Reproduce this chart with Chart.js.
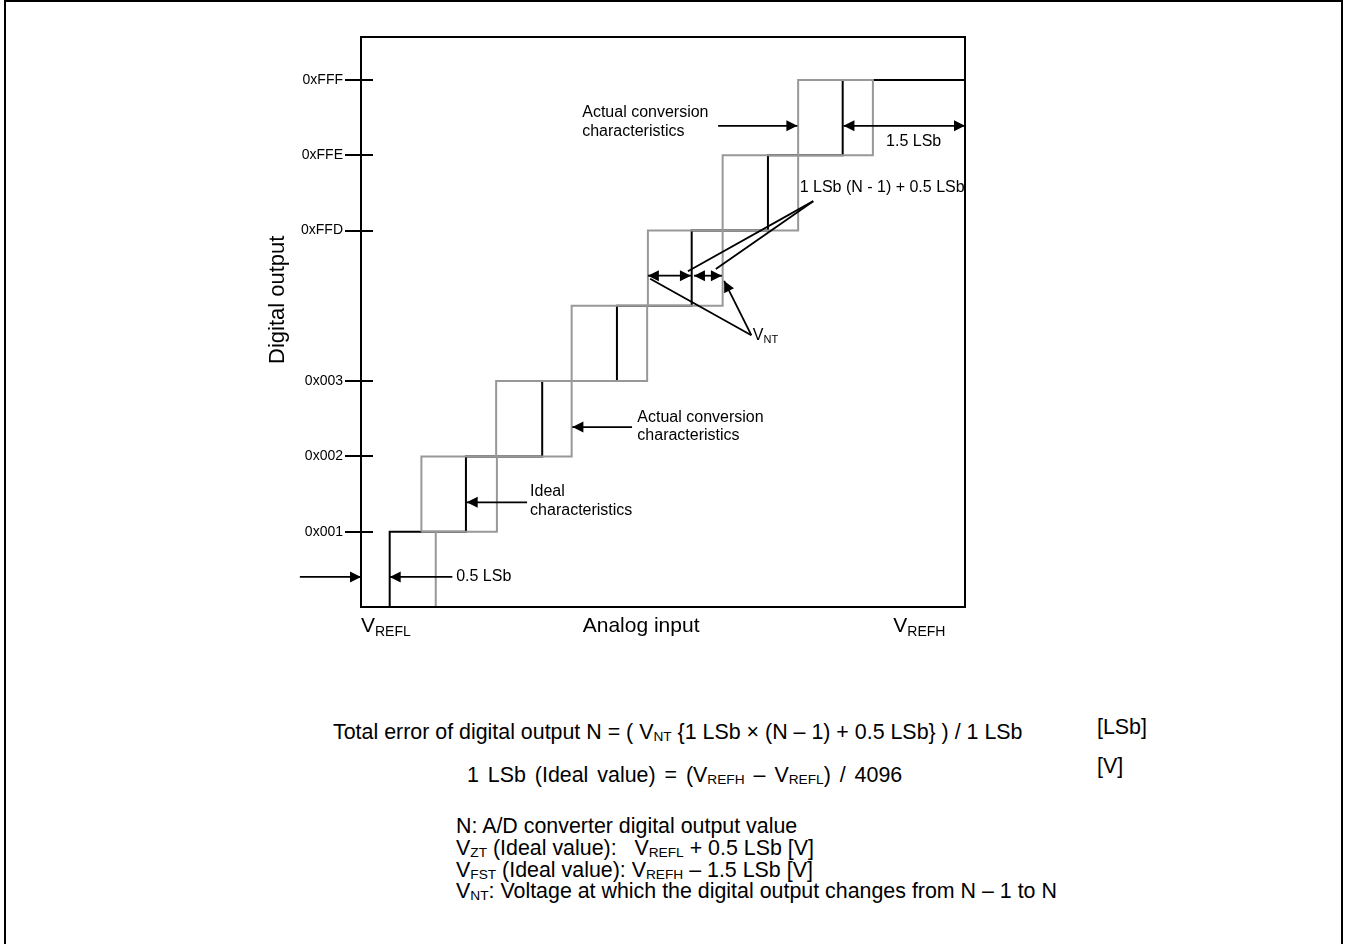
<!DOCTYPE html>
<html>
<head>
<meta charset="utf-8">
<script src="https://cdn.jsdelivr.net/npm/chart.js@4.4.1/dist/chart.umd.min.js"></script>
<style>
  html, body { margin: 0; padding: 0; background: #fff; }
  #wrap { position: relative; width: 1345px; height: 944px; overflow: hidden; }
  #frame { position: absolute; left: 4px; top: 0; width: 1339px; height: 980px; border: 2px solid #000; box-sizing: border-box; }
  #chart { position: absolute; left: 0; top: 0; }
  .t { position: absolute; font-family: "Liberation Sans", Arial, sans-serif; font-size: 21.4px; line-height: 22px; white-space: nowrap; color: #000; }
  .t sub { font-size: 0.64em; vertical-align: -0.15em; line-height: 0; }
</style>
</head>
<body>
<div id="wrap">
  <div id="frame"></div>
  <canvas id="chart" width="1345" height="700"></canvas>
  <div class="t" style="left:333px;top:721px">Total error of digital output N = ( V<sub>NT</sub> {1 LSb × (N – 1) + 0.5 LSb} ) / 1 LSb</div>
  <div class="t" style="left:1097px;top:716px">[LSb]</div>
  <div class="t" style="left:467px;top:764px;word-spacing:3px">1 LSb (Ideal value) = (V<sub>REFH</sub> – V<sub>REFL</sub>) / 4096</div>
  <div class="t" style="left:1097px;top:755px">[V]</div>
  <div class="t" style="left:456px;top:815px">N: A/D converter digital output value</div>
  <div class="t" style="left:456px;top:837px">V<sub>ZT</sub> (Ideal value):&nbsp;&nbsp; V<sub>REFL</sub> + 0.5 LSb [V]</div>
  <div class="t" style="left:456px;top:859px">V<sub>FST</sub> (Ideal value): V<sub>REFH</sub> – 1.5 LSb [V]</div>
  <div class="t" style="left:456px;top:880px">V<sub>NT</sub>: Voltage at which the digital output changes from N – 1 to N</div>
</div>
<script>
// x in LSb from VREFL, y in output codes counted from the bottom
const idealSteps = [0.38, 1.39, 2.40, 3.39, 4.38, 5.39, 6.38];
const boxLeft = [0.38, 0.80, 1.79, 2.79, 3.80, 4.79, 5.79];
const boxRight = [0.99, 1.80, 2.79, 3.79, 4.79, 5.79, 6.78];
const tickLevels = [1, 2, 3, 5, 6, 7];
const tickLabels = ["0x001", "0x002", "0x003", "0xFFD", "0xFFE", "0xFFF"];
const xMax = 8;
const yMax = 7.57;

const FONT = '"Liberation Sans", Arial, sans-serif';

// ideal staircase: rise at each step, then run to the next one
const idealData = [];
idealSteps.forEach((x, i) => {
  idealData.push({ x, y: i }, { x, y: i + 1 });
});
idealData.push({ x: xMax, y: idealSteps.length });

// actual characteristic: one box per code, first one only its right edge
const actualData = [];
boxRight.forEach((r, i) => {
  const l = boxLeft[i];
  if (i === 0) {
    actualData.push({ x: r, y: 0 }, { x: r, y: 1 }, { x: r, y: NaN });
  } else {
    actualData.push({ x: l, y: i }, { x: r, y: i }, { x: r, y: i + 1 },
                    { x: l, y: i + 1 }, { x: l, y: i }, { x: l, y: NaN });
  }
});

// annotation layout (data units)
const arrows = [
  { a: [-0.81, 0.40], b: [0, 0.40], heads: [0, 1] },
  { a: [1.21, 0.40], b: [0.38, 0.40], heads: [0, 1] },
  { a: [2.20, 1.39], b: [1.40, 1.39], heads: [0, 1] },
  { a: [3.59, 2.39], b: [2.80, 2.39], heads: [0, 1] },
  { a: [4.73, 6.39], b: [5.78, 6.39], heads: [0, 1] },
  { a: [6.39, 6.39], b: [8, 6.39], heads: [1, 1] },
  { a: [3.80, 4.40], b: [4.37, 4.40], heads: [1, 1] },
  { a: [4.41, 4.40], b: [4.78, 4.40], heads: [1, 1] },
  { a: [5.99, 5.39], b: [4.33, 4.46], heads: [0, 0] },
  { a: [5.99, 5.39], b: [4.70, 4.49], heads: [0, 0] },
  { a: [5.17, 3.61], b: [3.83, 4.36], heads: [0, 0] },
  { a: [5.17, 3.61], b: [4.81, 4.33], heads: [0, 1] }
];

const notes = [
  { x: 1.26, y: 0.40, s: "0.5 LSb" },
  { x: 2.24, y: 1.53, s: "Ideal" },
  { x: 2.24, y: 1.28, s: "characteristics" },
  { x: 3.66, y: 2.52, s: "Actual conversion" },
  { x: 3.66, y: 2.27, s: "characteristics" },
  { x: 2.93, y: 6.57, s: "Actual conversion" },
  { x: 2.93, y: 6.32, s: "characteristics" },
  { x: 7.32, y: 6.18, s: "1.5 LSb", align: "center" },
  { x: 5.81, y: 5.57, s: "1 LSb (N - 1) + 0.5 LSb" },
  { x: 5.19, y: 3.60, s: "V_{NT}" }
];

const axisNotes = [
  { x: 0, s: "V_{REFL}" },
  { x: 3.71, s: "Analog input", align: "center" },
  { x: 7.05, s: "V_{REFH}" }
];

function parts(s) {
  const out = [];
  const re = /_\{([^}]*)\}/g;
  let last = 0, m;
  while ((m = re.exec(s))) {
    if (m.index > last) out.push({ t: s.slice(last, m.index), sub: false });
    out.push({ t: m[1], sub: true });
    last = re.lastIndex;
  }
  if (last < s.length) out.push({ t: s.slice(last), sub: false });
  return out;
}

function drawRich(ctx, s, x, y, size, align) {
  const ps = parts(s);
  const subSize = Math.round(size * 0.68);
  let w = 0;
  ps.forEach(p => {
    ctx.font = (p.sub ? subSize : size) + "px " + FONT;
    p.w = ctx.measureText(p.t).width;
    w += p.w;
  });
  let cx = align === "center" ? x - w / 2 : x;
  ctx.textAlign = "left";
  ctx.textBaseline = "middle";
  ps.forEach(p => {
    ctx.font = (p.sub ? subSize : size) + "px " + FONT;
    ctx.fillText(p.t, cx, p.sub ? y + size * 0.28 : y);
    cx += p.w;
  });
}

function arrowHead(ctx, x1, y1, x2, y2) {
  const ang = Math.atan2(y2 - y1, x2 - x1);
  const len = 11, half = 5.5;
  ctx.beginPath();
  ctx.moveTo(x2, y2);
  ctx.lineTo(x2 - len * Math.cos(ang) + half * Math.sin(ang), y2 - len * Math.sin(ang) - half * Math.cos(ang));
  ctx.lineTo(x2 - len * Math.cos(ang) - half * Math.sin(ang), y2 - len * Math.sin(ang) + half * Math.cos(ang));
  ctx.closePath();
  ctx.fill();
}

const notesPlugin = {
  id: "notes",
  afterDatasetsDraw(chart) {
    const { ctx, chartArea: ca, scales: { x, y } } = chart;
    ctx.save();
    ctx.strokeStyle = "#000";
    ctx.fillStyle = "#000";
    ctx.lineWidth = 2;
    ctx.strokeRect(ca.left, ca.top, ca.right - ca.left, ca.bottom - ca.top);

    // tick stubs inside the frame
    tickLevels.forEach(v => {
      const py = Math.round(y.getPixelForValue(v));
      ctx.beginPath();
      ctx.moveTo(ca.left, py);
      ctx.lineTo(ca.left + 12, py);
      ctx.stroke();
    });

    ctx.lineWidth = 1.8;
    arrows.forEach(ar => {
      const x1 = x.getPixelForValue(ar.a[0]), y1 = y.getPixelForValue(ar.a[1]);
      const x2 = x.getPixelForValue(ar.b[0]), y2 = y.getPixelForValue(ar.b[1]);
      ctx.beginPath();
      ctx.moveTo(x1, y1);
      ctx.lineTo(x2, y2);
      ctx.stroke();
      if (ar.heads[0]) arrowHead(ctx, x2, y2, x1, y1);
      if (ar.heads[1]) arrowHead(ctx, x1, y1, x2, y2);
    });

    notes.forEach(n => {
      drawRich(ctx, n.s, x.getPixelForValue(n.x), y.getPixelForValue(n.y), 16, n.align);
    });
    axisNotes.forEach(n => {
      drawRich(ctx, n.s, x.getPixelForValue(n.x), ca.bottom + 19, 21, n.align);
    });

    // y axis title, sitting a little above the middle of the axis
    ctx.save();
    ctx.translate(ca.left - 83, y.getPixelForValue(4.08));
    ctx.rotate(-Math.PI / 2);
    ctx.font = "22px " + FONT;
    ctx.textAlign = "center";
    ctx.textBaseline = "middle";
    ctx.fillText("Digital output", 0, 0);
    ctx.restore();
    ctx.restore();
  }
};

new Chart(document.getElementById("chart"), {
  type: "scatter",
  data: {
    datasets: [
      {
        label: "Actual conversion characteristics",
        data: actualData,
        showLine: true,
        spanGaps: false,
        borderColor: "#989898",
        borderWidth: 2,
        pointRadius: 0,
        order: 0
      },
      {
        label: "Ideal characteristics",
        data: idealData,
        showLine: true,
        borderColor: "#000",
        borderWidth: 2,
        pointRadius: 0,
        order: 1
      }
    ]
  },
  options: {
    responsive: false,
    animation: false,
    layout: { padding: { left: 265, right: 380, top: 37, bottom: 93 } },
    plugins: { legend: { display: false }, tooltip: { enabled: false } },
    scales: {
      x: { type: "linear", min: 0, max: xMax, display: false },
      y: {
        type: "linear",
        min: 0,
        max: yMax,
        position: "left",
        afterBuildTicks: s => { s.ticks = tickLevels.map(v => ({ value: v })); },
        afterFit: s => { s.width = 96; },
        ticks: {
          autoSkip: false,
          padding: 2,
          color: "#000",
          font: { family: FONT, size: 14 },
          callback: v => tickLabels[tickLevels.indexOf(v)]
        },
        grid: { drawOnChartArea: false, drawTicks: true, tickLength: 16, color: "#000", lineWidth: 2 },
        border: { display: true, color: "#000", width: 2 },
        title: { display: false }
      }
    }
  },
  plugins: [notesPlugin]
});
</script>
</body>
</html>
